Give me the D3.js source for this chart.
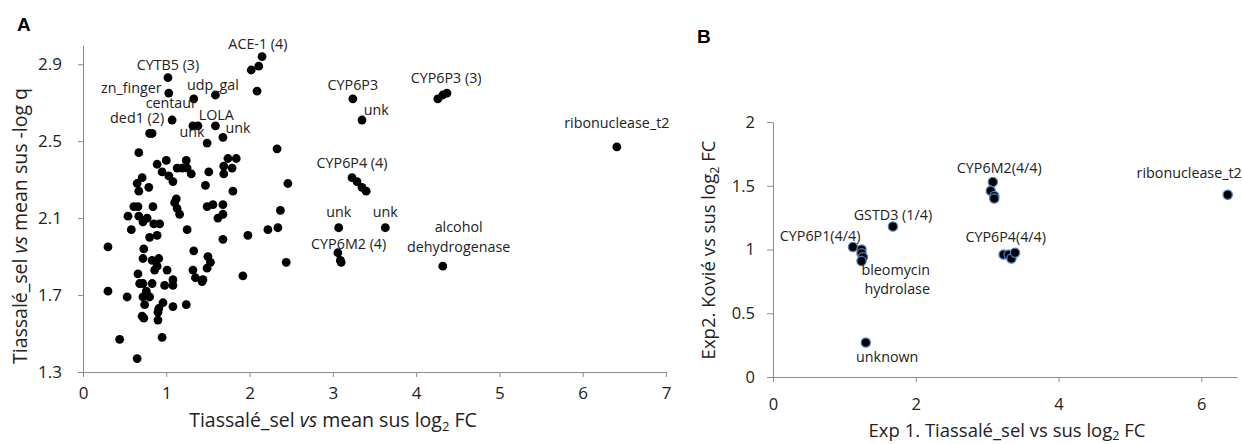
<!DOCTYPE html>
<html lang="en">
<head>
  <meta charset="utf-8">
  <title>Tiassalé_sel vs sus</title>
  <script src="https://d3js.org/d3.v7.min.js"></script>
  <style>
    body { margin: 0; background: #fff; }
    svg { display: block; font-family: "Open Sans", sans-serif; }
    .axis path, .axis line { stroke: #8c8c8c; }
    .axis text { font-family: "Open Sans", sans-serif; fill: #222; }
    .axA text { font-size: 17px; }
    .axB text { font-size: 16.5px; }
    .lab { font-size: 14.3px; fill: #222; }
    .titleA { font-size: 19.5px; fill: #222; }
    .titleB { font-size: 18.5px; fill: #222; }
  </style>
</head>
<body>
<svg id="chart" width="1242" height="444"></svg>
<script>
  // Panel A: Tiassalé_sel vs mean sus, log2 FC (x) and -log q (y)
  const aFC = [
    2.15, 2.11, 2.02, 2.09, 1.02, 1.03, 1.33, 1.59, 1.07, 0.80, 0.83, 1.32, 1.38, 1.59, 1.68, 1.49, 2.33, 0.67,
    0.89, 1.00, 0.95, 1.03, 1.08, 1.13, 1.19, 1.24, 1.25, 1.30, 1.51, 1.69, 1.69, 1.74, 1.79, 1.84, 0.71, 0.65,
    0.67, 0.79, 1.47, 1.80, 2.46, 1.12, 0.61, 0.66, 0.84, 1.10, 1.13, 1.16, 1.49, 1.56, 1.68, 1.68, 1.62, 2.37,
    0.54, 0.67, 0.72, 0.77, 0.85, 0.92, 0.58, 1.25, 2.22, 2.34, 0.80, 0.89, 1.68, 1.98, 0.30, 0.73, 1.33, 1.50,
    0.72, 0.83, 0.91, 1.53, 0.89, 0.86, 1.01, 1.49, 2.44, 1.32, 1.35, 1.44, 1.92, 0.66, 0.68, 0.72, 0.83, 0.98,
    1.08, 1.08, 0.30, 0.53, 0.72, 0.80, 0.76, 0.96, 1.08, 1.24, 0.74, 0.91, 0.90, 0.90, 0.71, 0.73, 0.44, 0.95,
    0.65, 1.43, 3.24, 3.35, 4.26, 4.32, 4.37, 6.41, 3.23, 3.29, 3.35, 3.40, 3.07, 3.63, 3.06, 3.09, 3.10, 4.32
  ];
  const aLogQ = [
    2.94, 2.89, 2.87, 2.76, 2.83, 2.75, 2.72, 2.74, 2.61, 2.54, 2.54, 2.58, 2.58, 2.58, 2.52, 2.49, 2.46, 2.44,
    2.38, 2.40, 2.34, 2.32, 2.29, 2.36, 2.36, 2.40, 2.36, 2.33, 2.34, 2.37, 2.33, 2.41, 2.36, 2.41, 2.31, 2.28,
    2.24, 2.26, 2.27, 2.24, 2.28, 2.20, 2.16, 2.16, 2.16, 2.18, 2.15, 2.12, 2.16, 2.17, 2.17, 2.12, 2.10, 2.14,
    2.11, 2.11, 2.08, 2.10, 2.07, 2.07, 2.04, 2.04, 2.04, 2.05, 2.00, 2.01, 1.99, 2.01, 1.95, 1.94, 1.93, 1.90,
    1.89, 1.88, 1.89, 1.87, 1.85, 1.83, 1.83, 1.84, 1.87, 1.83, 1.79, 1.78, 1.80, 1.81, 1.76, 1.76, 1.76, 1.75,
    1.78, 1.75, 1.72, 1.69, 1.69, 1.69, 1.72, 1.66, 1.64, 1.65, 1.65, 1.63, 1.61, 1.57, 1.59, 1.58, 1.47, 1.48,
    1.37, 1.77, 2.72, 2.61, 2.72, 2.74, 2.75, 2.47, 2.31, 2.29, 2.26, 2.24, 2.05, 2.05, 1.92, 1.88, 1.87, 1.85
  ];
  const aXTicks = [0, 1, 2, 3, 4, 5, 6, 7];
  const aYTicks = [1.3, 1.7, 2.1, 2.5, 2.9];

  // gene labels in panel A, placed at [x, y] in data units
  const aLabels = [
    ["ACE-1 (4)", 2.10, 2.98], ["CYTB5 (3)", 1.02, 2.87], ["zn_finger", 0.58, 2.75],
    ["udp_gal", 1.56, 2.765], ["centaur", 1.06, 2.67], ["ded1 (2)", 0.65, 2.594],
    ["LOLA", 1.60, 2.612], ["unk", 1.31, 2.52], ["unk", 1.86, 2.54],
    ["CYP6P3", 3.24, 2.765], ["unk", 3.52, 2.635], ["CYP6P3 (3)", 4.36, 2.80],
    ["ribonuclease_t2", 6.41, 2.568], ["CYP6P4 (4)", 3.23, 2.36], ["unk", 3.07, 2.105],
    ["unk", 3.63, 2.105], ["CYP6M2 (4)", 3.19, 1.939], ["alcohol", 4.51, 2.027],
    ["dehydrogenase", 4.51, 1.923]
  ];

  // Panel B: Exp 1 (x) vs Exp 2 (y) log2 FC
  const bExp1 = [3.08, 3.05, 3.10, 3.10, 6.37, 1.68, 1.12, 1.24, 1.24, 1.26, 1.24, 1.30, 3.23, 3.30, 3.34, 3.39];
  const bExp2 = [1.53, 1.46, 1.42, 1.40, 1.43, 1.18, 1.02, 1.00, 0.97, 0.94, 0.91, 0.27, 0.96, 0.96, 0.93, 0.975];
  const bXTicks = [0, 2, 4, 6];
  const bYTicks = [0, 0.5, 1, 1.5, 2];
  const bLabels = [
    ["CYP6M2(4/4)", 3.17, 1.60], ["ribonuclease_t2", 5.83, 1.56], ["GSTD3 (1/4)", 1.68, 1.23],
    ["CYP6P1(4/4)", 0.66, 1.067], ["CYP6P4(4/4)", 3.26, 1.06], ["bleomycin", 1.72, 0.80],
    ["hydrolase", 1.74, 0.65], ["unknown", 1.60, 0.118]
  ];

  const svg = d3.select("#chart");
  svg.append("rect").attr("width", 1242).attr("height", 444).attr("fill", "#fff");

  // ---------- panel A ----------
  const xA = d3.scaleLinear().domain([0, 7]).range([83, 666]);
  const yA = d3.scaleLinear().domain([1.3, 3.0]).range([372, 45]);

  svg.append("g").attr("class", "axis axA")
    .attr("transform", "translate(0,372)")
    .call(d3.axisBottom(xA).tickValues(aXTicks).tickFormat(d3.format("d"))
      .tickSize(5).tickSizeOuter(0).tickPadding(10));
  svg.append("g").attr("class", "axis axA")
    .attr("transform", "translate(83,0)")
    .call(d3.axisLeft(yA).tickValues(aYTicks).tickFormat(d3.format(".1f"))
      .tickSize(5).tickSizeOuter(0).tickPadding(16));

  svg.append("g").selectAll("circle")
    .data(d3.zip(aFC, aLogQ))
    .join("circle")
    .attr("cx", d => xA(d[0]))
    .attr("cy", d => yA(d[1]))
    .attr("r", 4.4)
    .attr("fill", "#000");

  svg.append("g").selectAll("text")
    .data(aLabels)
    .join("text")
    .attr("class", "lab")
    .attr("x", d => xA(d[1]))
    .attr("y", d => yA(d[2]))
    .attr("text-anchor", "middle")
    .text(d => d[0]);

  const xtA = svg.append("text").attr("class", "titleA")
    .attr("x", 333).attr("y", 427).attr("text-anchor", "middle");
  xtA.append("tspan").text("Tiassalé_sel ");
  xtA.append("tspan").attr("font-style", "italic").text("vs");
  xtA.append("tspan").text(" mean sus log");
  xtA.append("tspan").attr("font-size", "13px").attr("dy", 4).text("2");
  xtA.append("tspan").attr("dy", -4).text(" FC");

  const ytA = svg.append("text").attr("class", "titleA")
    .attr("transform", "translate(27,226) rotate(-90)").attr("text-anchor", "middle");
  ytA.append("tspan").text("Tiassalé_sel ");
  ytA.append("tspan").attr("font-style", "italic").text("vs");
  ytA.append("tspan").text(" mean sus -log q");

  svg.append("text").attr("x", 17).attr("y", 31)
    .attr("font-size", "19px").attr("font-weight", "bold").attr("font-family", "Liberation Sans, Arial")
    .text("A");

  // ---------- panel B ----------
  const xB = d3.scaleLinear().domain([0, 6.5]).range([773, 1237]);
  const yB = d3.scaleLinear().domain([0, 2]).range([377, 122]);

  svg.append("g").attr("class", "axis axB")
    .attr("transform", "translate(0,377)")
    .call(d3.axisBottom(xB).tickValues(bXTicks).tickFormat(d3.format("d"))
      .tickSize(5).tickSizeOuter(0).tickPadding(16));
  svg.append("g").attr("class", "axis axB")
    .attr("transform", "translate(773,0)")
    .call(d3.axisLeft(yB).tickValues(bYTicks).tickFormat(d => d)
      .tickSize(6).tickSizeOuter(0).tickPadding(12));

  svg.append("g").selectAll("circle")
    .data(d3.zip(bExp1, bExp2))
    .join("circle")
    .attr("cx", d => xB(d[0]))
    .attr("cy", d => yB(d[1]))
    .attr("r", 4.6)
    .attr("fill", "#000")
    .attr("stroke", "#4f81bd")
    .attr("stroke-width", 1.3);

  svg.append("g").selectAll("text")
    .data(bLabels)
    .join("text")
    .attr("class", "lab")
    .attr("x", d => xB(d[1]))
    .attr("y", d => yB(d[2]))
    .attr("text-anchor", "middle")
    .text(d => d[0]);

  const xtB = svg.append("text").attr("class", "titleB")
    .attr("x", 1007).attr("y", 437).attr("text-anchor", "middle");
  xtB.append("tspan").text("Exp 1. Tiassalé_sel vs sus log");
  xtB.append("tspan").attr("font-size", "12.5px").attr("dy", 3).text("2");
  xtB.append("tspan").attr("dy", -3).text(" FC");

  const ytB = svg.append("text").attr("class", "titleB")
    .attr("transform", "translate(715,250) rotate(-90)").attr("text-anchor", "middle");
  ytB.append("tspan").text("Exp2. Kovié vs sus log");
  ytB.append("tspan").attr("font-size", "12.5px").attr("dy", 4).text("2");
  ytB.append("tspan").attr("dy", -4).text(" FC");

  svg.append("text").attr("x", 697).attr("y", 43)
    .attr("font-size", "19px").attr("font-weight", "bold").attr("font-family", "Liberation Sans, Arial")
    .text("B");
</script>
</body>
</html>
